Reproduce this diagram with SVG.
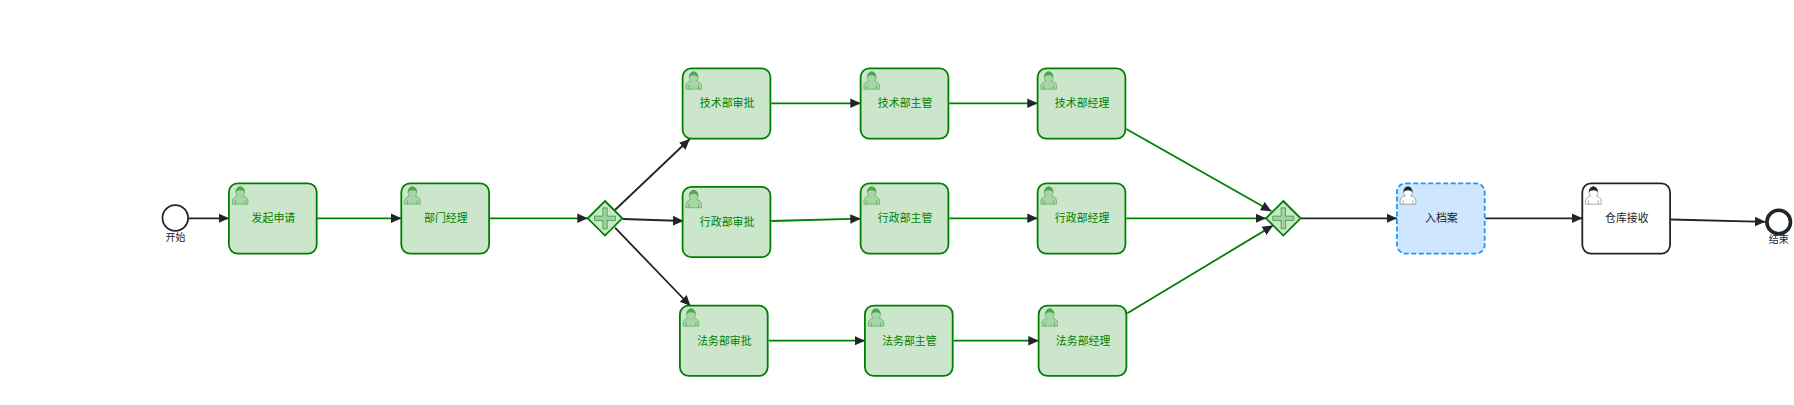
<svg xmlns="http://www.w3.org/2000/svg" width="1794" height="405" viewBox="0 0 1794 405">
<style>
text{font-family:"Liberation Sans","Noto Sans CJK SC",sans-serif;font-size:10.9px;text-anchor:middle}
.g rect{fill:#cce6cc;stroke:#008000;stroke-width:1.8}
.g text{fill:#008000}
.k rect{fill:#fff;stroke:#22242a;stroke-width:1.8}
.b rect{fill:#cfe6ff;stroke:#2196f3;stroke-width:1.8;stroke-dasharray:5 2.5}
.k text,.b text,.e text{fill:#22242a}
.e text{font-size:10px}
.c{fill:none;stroke-width:1.8}
.cg{stroke:#008000}
.cd{stroke:#22242a}
.gw path.d{fill:#cce6cc;stroke:#008000;stroke-width:1.8}
.gw path.p{fill:#9fd19f;stroke:#008000;stroke-width:.9;stroke-opacity:.6}
.ug{fill:#9fd19f;fill-opacity:.85;stroke:#008000;stroke-width:.7;stroke-opacity:.5}
.hg{fill:#3f9f3f;fill-opacity:.85}
.uk{fill:#fff;stroke:#22242a;stroke-width:.6;stroke-opacity:.6}
.hk{fill:#22242a}
</style>
<defs>
<marker id="arrow" markerUnits="userSpaceOnUse" markerWidth="12" markerHeight="11" refX="10.5" refY="5.5" orient="auto" viewBox="0 0 12 11">
<path d="M0 .7L10.5 5.5L0 10.3Z" fill="#22242a"/>
</marker>
<g id="user-g">
<path class="ug" d="M3.6 6.5C3.6 3 5.5 .9 8 .9S12.4 3 12.4 6.5C12.4 8 11.8 9.2 10.8 10C13.6 10.7 15.8 12.4 15.8 14.8V18.2H.2V14.8C.2 12.4 2.4 10.7 5.2 10C4.2 9.2 3.6 8 3.6 6.5ZM3.2 18.2V14.2M12.8 18.2V14.2"/>
<path class="hg" d="M3.6 6.3C3.4 2.8 5.5 .4 8 .4S12.6 2.8 12.4 6.3C11.6 4.9 10 4.2 8 4.2S4.4 4.9 3.6 6.3Z"/>
</g>
<g id="user-k">
<path class="uk" d="M3.6 6.5C3.6 3 5.5 .9 8 .9S12.4 3 12.4 6.5C12.4 8 11.8 9.2 10.8 10C13.6 10.7 15.8 12.4 15.8 14.8V18.2H.2V14.8C.2 12.4 2.4 10.7 5.2 10C4.2 9.2 3.6 8 3.6 6.5ZM3.2 18.2V14.2M12.8 18.2V14.2"/>
<path class="hk" d="M3.6 6.3C3.4 2.8 5.5 .4 8 .4S12.6 2.8 12.4 6.3C11.6 4.9 10 4.2 8 4.2S4.4 4.9 3.6 6.3Z"/>
</g>
</defs>
<g id="connectors">
<path class="c cd" marker-end="url(#arrow)" d="M188.7 218.3H229"/>
<path class="c cg" marker-end="url(#arrow)" d="M317 218.3H401.5"/>
<path class="c cg" marker-end="url(#arrow)" d="M490 218.3H587.8"/>
<path class="c cd" marker-end="url(#arrow)" d="M615 210L689.8 139"/>
<path class="c cd" marker-end="url(#arrow)" d="M622.7 219L683.5 221"/>
<path class="c cd" marker-end="url(#arrow)" d="M615 227.7L690.5 306"/>
<path class="c cg" marker-end="url(#arrow)" d="M771.3 103.3H860.8"/>
<path class="c cg" marker-end="url(#arrow)" d="M771.3 221L860.8 218.7"/>
<path class="c cg" marker-end="url(#arrow)" d="M768.7 340.7H865"/>
<path class="c cg" marker-end="url(#arrow)" d="M949.3 103.3H1037.8"/>
<path class="c cg" marker-end="url(#arrow)" d="M949.3 218.3H1037.8"/>
<path class="c cg" marker-end="url(#arrow)" d="M953.7 340.7H1038.8"/>
<path class="c cg" marker-end="url(#arrow)" d="M1126.3 129L1271.4 211.2"/>
<path class="c cg" marker-end="url(#arrow)" d="M1126.3 218.3H1266"/>
<path class="c cg" marker-end="url(#arrow)" d="M1127.3 313.3L1273 225.5"/>
<path class="c cd" marker-end="url(#arrow)" d="M1301 218.3H1397"/>
<path class="c cd" marker-end="url(#arrow)" d="M1485.3 218.3H1582.5"/>
<path class="c cd" marker-end="url(#arrow)" d="M1670.7 219.5L1765.5 221.8"/>
</g>
<g id="start" class="e"><circle cx="175.3" cy="218" r="12.8" fill="#fff" stroke="#22242a" stroke-width="1.8"/><text x="175.6" y="240.8">开始</text></g>
<g id="task1" class="g"><rect x="228.9" y="183.3" width="87.8" height="70.3" rx="8.8"/><use href="#user-g" x="232.2" y="186"/><text x="273.4" y="222.3">发起申请</text></g>
<g id="task2" class="g"><rect x="401.3" y="183.3" width="87.8" height="70.3" rx="8.8"/><use href="#user-g" x="404.4" y="186"/><text x="445.8" y="222.3">部门经理</text></g>
<g id="gateway1" class="gw"><path class="d" d="M605 201L622.3 218.3L605 235.6L587.7 218.3Z"/><path class="p" transform="translate(605 218.3)" d="M-2.2 -10.5H2.2V-2.2H10.5V2.2H2.2V10.5H-2.2V2.2H-10.5V-2.2H-2.2Z"/></g>
<g id="tech1" class="g"><rect x="682.6" y="68.3" width="87.8" height="70.3" rx="8.8"/><use href="#user-g" x="685.7" y="71"/><text x="727.1" y="107.3">技术部审批</text></g>
<g id="tech2" class="g"><rect x="860.6" y="68.3" width="87.8" height="70.3" rx="8.8"/><use href="#user-g" x="863.7" y="71"/><text x="905.1" y="107.3">技术部主管</text></g>
<g id="tech3" class="g"><rect x="1037.6" y="68.3" width="87.8" height="70.3" rx="8.8"/><use href="#user-g" x="1040.7" y="71"/><text x="1082.1" y="107.3">技术部经理</text></g>
<g id="admin1" class="g"><rect x="682.6" y="186.9" width="87.8" height="70.3" rx="8.8"/><use href="#user-g" x="685.7" y="189.6"/><text x="727.1" y="225.5">行政部审批</text></g>
<g id="admin2" class="g"><rect x="860.6" y="183.3" width="87.8" height="70.3" rx="8.8"/><use href="#user-g" x="863.7" y="186"/><text x="905.1" y="222.3">行政部主管</text></g>
<g id="admin3" class="g"><rect x="1037.6" y="183.3" width="87.8" height="70.3" rx="8.8"/><use href="#user-g" x="1040.7" y="186"/><text x="1082.1" y="222.3">行政部经理</text></g>
<g id="legal1" class="g"><rect x="679.9" y="305.6" width="87.8" height="70.3" rx="8.8"/><use href="#user-g" x="683" y="308"/><text x="724.4" y="344.6">法务部审批</text></g>
<g id="legal2" class="g"><rect x="864.9" y="305.6" width="87.8" height="70.3" rx="8.8"/><use href="#user-g" x="868" y="308"/><text x="909.4" y="344.6">法务部主管</text></g>
<g id="legal3" class="g"><rect x="1038.6" y="305.6" width="87.8" height="70.3" rx="8.8"/><use href="#user-g" x="1041.7" y="308"/><text x="1083.1" y="344.6">法务部经理</text></g>
<g id="gateway2" class="gw"><path class="d" d="M1283.3 201L1300.6 218.3L1283.3 235.6L1266 218.3Z"/><path class="p" transform="translate(1283.3 218.3)" d="M-2.2 -10.5H2.2V-2.2H10.5V2.2H2.2V10.5H-2.2V2.2H-10.5V-2.2H-2.2Z"/></g>
<g id="archive" class="b"><rect x="1396.9" y="183.3" width="87.8" height="70.3" rx="8.8"/><use href="#user-k" x="1400" y="186"/><text x="1441.4" y="222.3">入档案</text></g>
<g id="receive" class="k"><rect x="1582.3" y="183.3" width="87.8" height="70.3" rx="8.8"/><use href="#user-k" x="1585.4" y="186"/><text x="1626.8" y="222.3">仓库接收</text></g>
<g id="end" class="e"><circle cx="1778.7" cy="222" r="11.8" fill="#fff" stroke="#22242a" stroke-width="3.6"/><text x="1778.7" y="243">结束</text></g>
</svg>
